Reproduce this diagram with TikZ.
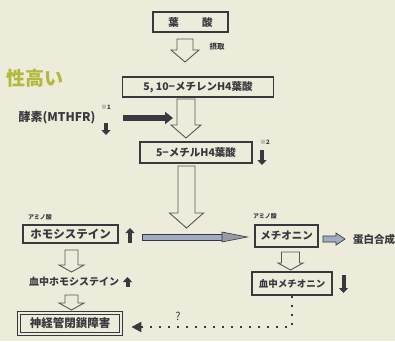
\documentclass[tikz,border=0pt]{standalone}
\usepackage{fontspec}
\setmainfont{Noto Sans CJK JP}
\usetikzlibrary{arrows.meta}
\definecolor{bg}{RGB}{237,235,218}
\definecolor{ink}{RGB}{58,56,62}
\definecolor{lime}{RGB}{178,186,62}
\definecolor{steel}{RGB}{160,172,195}
\definecolor{tipgray}{RGB}{150,155,165}
\newcommand\hollowdown[6]{\draw[hol] ({#1-#5},#2) -- ({#1+#5},#2) -- ({#1+#5},#3) -- ({#1+#6},#3) -- (#1,#4) -- ({#1-#6},#3) -- ({#1-#5},#3) -- cycle;}
\begin{document}
\begin{tikzpicture}[x=1pt,y=-1pt,
 box/.style={draw=ink,line width=1.1pt,fill=bg,text=ink,inner sep=0pt,font=\fontsize{10.5}{10.5}\selectfont\bfseries},
 hol/.style={draw=ink!85,line width=0.9pt,fill=bg,line join=miter},
 lbl/.style={text=ink,inner sep=0pt},
 tiny/.style={lbl,font=\fontsize{6}{6}\selectfont\bfseries},
 blkarrow/.style={draw=ink,line width=4pt,-{Triangle[length=5pt,width=9pt]}},
 bigarrow/.style={draw=ink,line width=5.5pt,-{Triangle[length=8pt,width=12pt]}},
 dotline/.style={draw=ink,line width=2pt,dash pattern=on 2pt off 7pt,-{Triangle[length=10pt,width=10pt]}}]
\fill[bg] (0,0) rectangle (395,341);
\useasboundingbox (0,0) rectangle (395,341);
% boxes
\node[box,minimum width=75,minimum height=20] (fa) at (190.5,22) {葉\hspace{2.2em}酸};
\node[box,minimum width=151,minimum height=20] (mth) at (198,87) {5, 10−メチレンH4葉酸};
\node[box,minimum width=112,minimum height=21] (mthf) at (196,152.5) {5−メチルH4葉酸};
\node[box,minimum width=95,minimum height=18,font=\fontsize{11.5}{11.5}\selectfont\bfseries] (hcy) at (70.5,234) {ホモシステイン};
\node[box,minimum width=63,minimum height=22] (met) at (286.5,236) {メチオニン};
\node[box,minimum width=80,minimum height=23,font=\fontsize{9.5}{9.5}\selectfont\bfseries] (bmet) at (292,283.5) {血中メチオニン};
\node[box,double=bg,double distance=1.8pt,line width=0.8pt,minimum width=102,minimum height=21,font=\fontsize{11.5}{11.5}\selectfont\bfseries] (ntd) at (70,323.5) {神経管閉鎖障害};
% labels
\node[lbl,font=\fontsize{7.5}{7.5}\selectfont\bfseries] (sesshu) at (217,47) {摂取};
\node[lbl,font=\fontsize{12}{12}\selectfont\bfseries] (enz) at (57,118) {酵素(MTHFR)};
\node[tiny] (n1) at (106,107) {※1};
\node[tiny] (n2) at (265,142) {※2};
\node[tiny] (am1) at (40,217) {アミノ酸};
\node[tiny] (am2) at (265,216) {アミノ酸};
\node[lbl,font=\fontsize{10}{10}\selectfont\bfseries] (bhcy) at (74,282) {血中ホモシステイン};
\node[lbl,font=\fontsize{10.5}{10.5}\selectfont\bfseries] (prot) at (374,239) {蛋白合成};
\node[lbl,font=\fontsize{11}{11}\selectfont] (q) at (178,316) {?};
\node[inner sep=0pt,text=lime,font=\fontsize{19}{19}\selectfont\bfseries] (risk) at (35,78) {性高い};
% hollow arrows
\hollowdown{185}{39}{50}{62}{8}{14}
\hollowdown{186}{99}{125}{138}{9}{15}
\hollowdown{186.5}{166}{213}{228}{8.5}{17}
\hollowdown{71.5}{250}{265}{272}{6.5}{12.5}
\hollowdown{71.5}{295}{303}{310}{6.5}{12.5}
\hollowdown{290.5}{252}{263}{270}{9}{12.5}
% black arrows
\coordinate (b1s) at (123,118); \coordinate (b1e) at (173,118);
\draw[bigarrow] (b1s) -- (b1e);
\coordinate (d1s) at (106,123); \coordinate (d1e) at (106,135);
\draw[blkarrow] (d1s) -- (d1e);
\coordinate (d2s) at (262,150); \coordinate (d2e) at (262,165);
\draw[blkarrow] (d2s) -- (d2e);
\coordinate (u1s) at (130,243); \coordinate (u1e) at (130,228);
\draw[blkarrow] (u1s) -- (u1e);
\coordinate (u2s) at (127.5,287); \coordinate (u2e) at (127.5,277);
\draw[blkarrow] (u2s) -- (u2e);
\coordinate (d3s) at (343.5,275); \coordinate (d3e) at (343.5,293);
\draw[blkarrow] (d3s) -- (d3e);
% long steel arrow homocysteine -> methionine
\draw[draw=ink,line width=0.7pt,fill=steel] ([xshift=24pt]hcy.east |- 0,234) rectangle (224,240);
\draw[draw=ink,line width=0.6pt,fill=tipgray] (222,232) -- ([xshift=-7pt]met.west |- 0,237) -- (222,242) -- cycle;
% small steel arrow -> protein synthesis
\draw[draw=ink,line width=0.7pt,fill=steel] (323,236) -- (336,236) -- (336,233) -- (345,239) -- (336,245) -- (336,242) -- (323,242) -- cycle;
% dotted connector
\draw[dotline] (bmet.south) -- (bmet.south |- 0,327) -- ([xshift=10pt]ntd.east |- 0,327);
\end{tikzpicture}
\end{document}
